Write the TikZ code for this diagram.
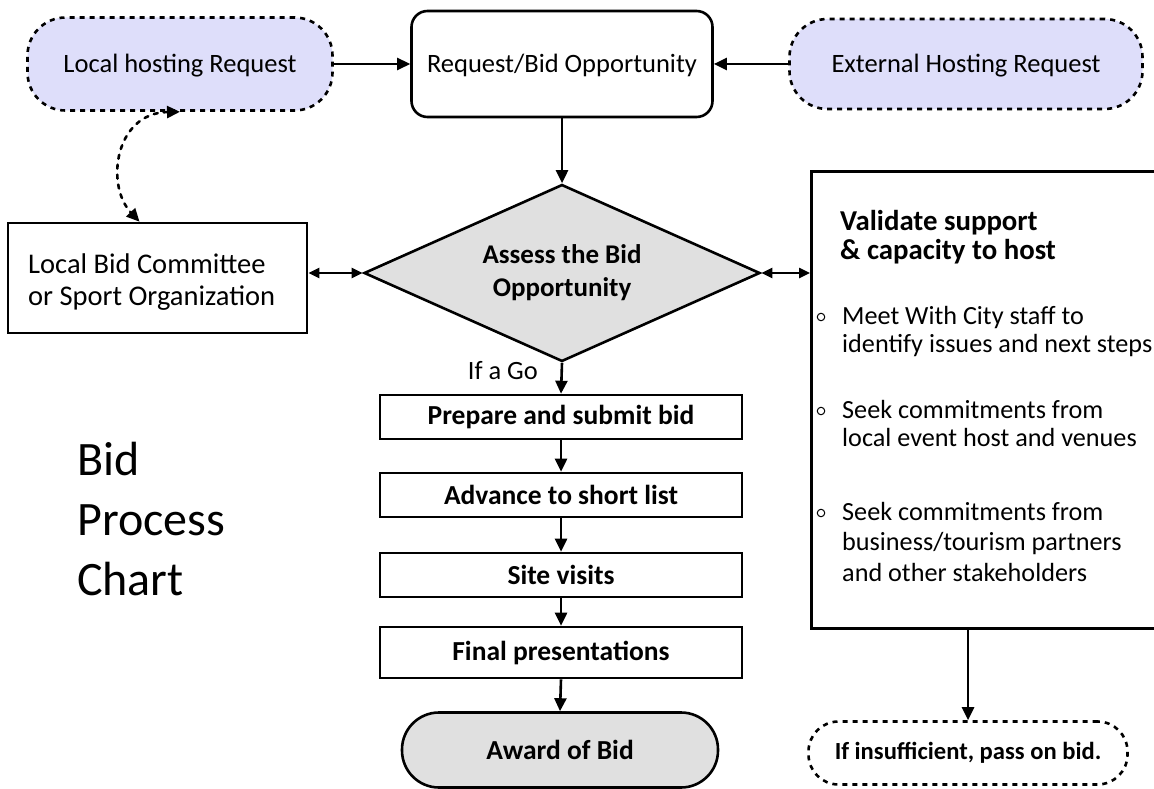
\documentclass[tikz,border=0pt]{standalone}
\usepackage{fontspec}
\setmainfont{Carlito}
\usetikzlibrary{arrows.meta,shapes.geometric}
\definecolor{lav}{RGB}{222,222,250}
\definecolor{lgray}{RGB}{224,224,224}
\begin{document}
\begin{tikzpicture}[x=1pt,y=-1pt,
  reg/.style={font=\fontsize{26.5}{30}\selectfont, text depth=2pt},
  body/.style={font=\fontsize{26.2}{30}\selectfont, anchor=base west, inner sep=0pt},
  bld/.style={font=\bfseries\fontsize{27.5}{32}\selectfont},
  dashnode/.style={draw, line width=2.6pt, dash pattern=on 5pt off 5pt, rounded corners=38pt, inner sep=0pt},
  boxnode/.style={draw, line width=2.6pt, inner sep=0pt},
  bullet/.style={draw, circle, line width=1pt, minimum size=7.5pt, inner sep=0pt},
  arr/.style={line width=2.6pt, -{Triangle[length=13pt,width=12pt]}},
  darr/.style={line width=2.4pt, {Triangle[length=11pt,width=10pt]}-{Triangle[length=11pt,width=10pt]}},
  dotarr/.style={line width=2.6pt, dash pattern=on 4pt off 6pt, line cap=round, {Triangle[length=13pt,width=12pt]}-{Triangle[length=13pt,width=12pt]}}
]
\useasboundingbox (0,0) rectangle (1154,789);

% top row
\node[dashnode, fill=lav, minimum width=305pt, minimum height=93pt, reg] (local) at (180,64) {Local hosting Request};
\node[boxnode, rounded corners=16pt, minimum width=301pt, minimum height=106pt, reg] (req) at (562,64) {Request/Bid Opportunity};
\node[dashnode, fill=lav, minimum width=353pt, minimum height=90pt, reg] (ext) at (966,64) {External Hosting Request};

% decision
\node[boxnode, shape=diamond, fill=lgray, minimum width=396pt, minimum height=177pt, aspect=2.24, align=center,
      font=\bfseries\fontsize{27}{33}\selectfont] (assess) at (562,273) {Assess the Bid\\Opportunity};

% committee
\node[boxnode, minimum width=299pt, minimum height=110pt] (comm) at (157.5,278) {};
\node[font=\fontsize{28.5}{32}\selectfont, anchor=base west, inner sep=0pt] (comm1) at (28,273) {Local Bid Committee};
\node[font=\fontsize{28.5}{32}\selectfont, anchor=base west, inner sep=0pt] (comm2) at (28,305) {or Sport Organization};

% validate box
\node[boxnode, anchor=north west, minimum width=350pt, minimum height=457pt] (val) at (810,170) {};
\node[font=\bfseries\fontsize{28.8}{32}\selectfont, anchor=base west, inner sep=0pt] (v1) at (840,230) {Validate support};
\node[font=\bfseries\fontsize{28.8}{32}\selectfont, anchor=base west, inner sep=0pt] (v2) at (840,259) {\&\ capacity to host};
\node[body] (b1a) at (842,324) {Meet With City staff to};
\node[body] (b1b) at (842,352) {identify issues and next steps};
\node[body] (b2a) at (842,418) {Seek commitments from};
\node[body] (b2b) at (842,446) {local event host and venues};
\node[body] (b3a) at (842,520) {Seek commitments from};
\node[body] (b3b) at (842,550) {business/tourism partners};
\node[body] (b3c) at (842,581) {and other stakeholders};
\node[bullet] (o1) at (821,317) {};
\node[bullet] (o2) at (821,411) {};
\node[bullet] (o3) at (821,513) {};

\node[dashnode, minimum width=319pt, minimum height=63pt, font=\bfseries\fontsize{24.6}{28}\selectfont, rounded corners=30pt] (ins) at (968,753) {If insufficient, pass on bid.};

% steps
\node[boxnode, minimum width=362pt, minimum height=44pt, bld] (s1) at (561,417) {Prepare and submit bid};
\node[boxnode, minimum width=362pt, minimum height=44pt, bld] (s2) at (561,495) {Advance to short list};
\node[boxnode, minimum width=362pt, minimum height=44pt, bld] (s3) at (561,575) {Site visits};
\node[boxnode, minimum width=362pt, minimum height=51pt, bld] (s4) at (561,652.5) {Final presentations};
\node[boxnode, fill=lgray, minimum width=316pt, minimum height=75pt, rounded corners=37pt, bld] (award) at (560,750) {Award of Bid};

\node[font=\fontsize{26.4}{30}\selectfont, anchor=base east, inner sep=0pt] (go) at (538,379) {If a Go};

\node[font=\fontsize{48}{60}\selectfont, anchor=base west, inner sep=0pt] (t1) at (77,475) {Bid};
\node[font=\fontsize{48}{60}\selectfont, anchor=base west, inner sep=0pt] (t2) at (77,535) {Process};
\node[font=\fontsize{48}{60}\selectfont, anchor=base west, inner sep=0pt] (t3) at (77,595) {Chart};

% connectors
\draw[arr] (local.east) -- (req.west);
\draw[arr] (ext.west) -- (req.east);
\draw[arr] (req.south) -- (assess.north);
\draw[darr] (comm.east |- assess.west) -- (assess.west);
\draw[darr] (assess.east) -- (assess.east -| val.west);
\draw[arr] (assess.south) -- (s1.north);
\draw[arr] (s1.south) -- (s2.north);
\draw[arr] (s2.south) -- (s3.north);
\draw[arr] (s3.south) -- (s4.north);
\draw[arr] (s4.south) -- (award.north);
\draw[arr] (ins.north |- val.south) -- (ins.north);
\draw[dotarr] (local.south) .. controls (115,113) and (105,185) .. ([xshift=-18pt]comm.north);
\end{tikzpicture}
\end{document}
